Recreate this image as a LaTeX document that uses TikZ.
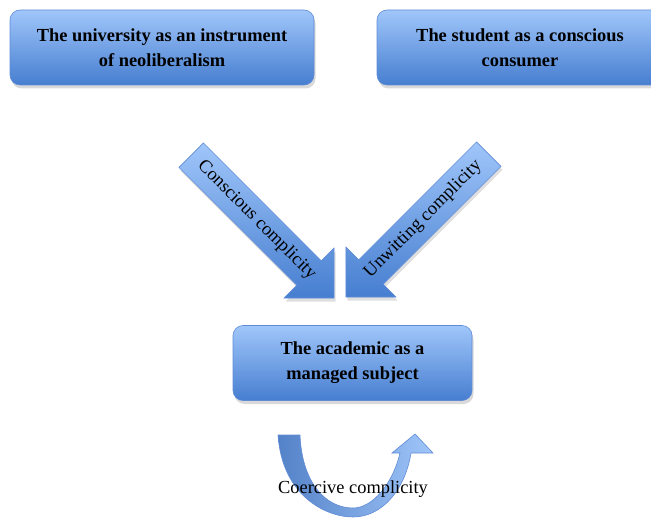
\documentclass[tikz,border=0pt]{standalone}
\usepackage{fontspec}
\setmainfont{Liberation Serif}
\usepackage{tikz}
\usetikzlibrary{shapes.arrows, shadows}
\definecolor{boxtop}{RGB}{160,198,250}
\definecolor{boxbottom}{RGB}{70,126,208}
\definecolor{boxline}{RGB}{96,140,214}
\definecolor{uleft}{RGB}{84,130,200}

\begin{document}
\begin{tikzpicture}[x=1pt, y=-1pt, thick]
    \useasboundingbox (0,0) rectangle (651,519);

    % Define styles for boxes and arrows
    \tikzstyle{box} = [rectangle, rounded corners=10pt, minimum height=75pt, text centered, align=center, draw=boxline, line width=0.6pt, top color=boxtop, bottom color=boxbottom, font=\fontsize{18.4}{25}\selectfont\bfseries, drop shadow={shadow xshift=1.5pt, shadow yshift=-3.5pt, opacity=0.3}]
    \tikzstyle{bigarrow} = [single arrow, single arrow head extend=18pt, minimum height=202pt, inner xsep=4pt, inner ysep=9pt, text height=12pt, text depth=4pt, draw=boxline, line width=0.6pt, top color=boxtop, bottom color=boxbottom, font=\fontsize{18.4}{22}\selectfont, drop shadow={shadow xshift=1.5pt, shadow yshift=-3.5pt, opacity=0.25}]
    \tikzstyle{uturn} = [draw=boxline, line width=0.6pt, left color=uleft, right color=boxtop]

    % boxes
    \node (university) [box, minimum width=304pt] at (162,47.5) {The university as an instrument\\of neoliberalism};
    \node (student) [box, minimum width=286pt] at (520,47.5) {The student as a conscious\\consumer};
    \node (academic) [box, minimum width=239pt] at (352.5,363) {The academic as a\\managed subject};

    % Arrows
    \node (conscious) [bigarrow, rotate=-45] at (256.5,220.5) {Conscious complicity};
    \node (unwitting) [bigarrow, shape border rotate=180, rotate=45] at (423.5,219.5) {Unwitting complicity};

    % loop under the academic
    \draw [uturn] (278,435) .. controls (282,495) and (325,517) .. (353,517)
        .. controls (382,517) and (405,490) .. (411,453) -- (433,453) -- (415,434) -- (392,453) -- (400,453)
        .. controls (393,483) and (373,508) .. (353,508)
        .. controls (325,508) and (302,482) .. (300,435) -- cycle;
    \node (coercive) [anchor=base, font=\fontsize{18.4}{22}\selectfont] at (353,493) {Coercive complicity};
\end{tikzpicture}
\end{document}
